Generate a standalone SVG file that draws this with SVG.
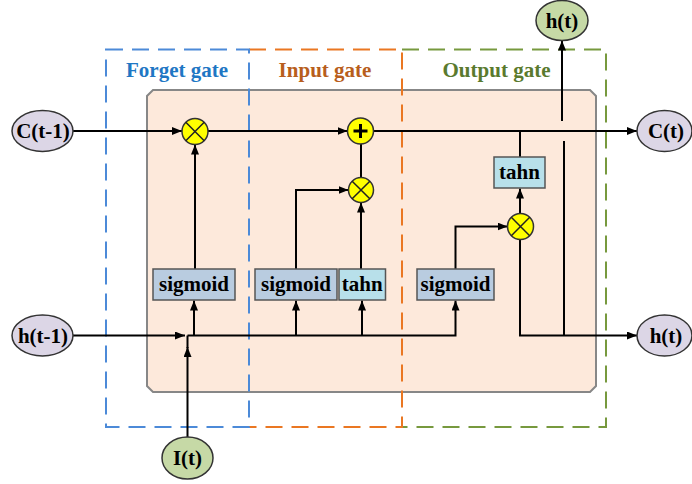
<svg xmlns="http://www.w3.org/2000/svg" width="692" height="484" viewBox="0 0 692 484">
<defs>
<marker id="arr" viewBox="0 0 10 8" refX="10" refY="4" markerWidth="10" markerHeight="8" markerUnits="userSpaceOnUse" orient="auto">
<path d="M0,0 L10,4 L0,8 Z" fill="#000"/>
</marker>
<style>
text{font-family:"Liberation Serif","Times New Roman",serif;font-weight:bold;font-size:21px;text-anchor:middle}
.lbl{fill:#000}
.ln{fill:none;stroke:#000;stroke-width:2}
.ar{marker-end:url(#arr)}
.dash{fill:none;stroke-width:2;stroke-dasharray:17 9}
.ellP{fill:#DCD6E6;stroke:#333;stroke-width:1.5}
.ellG{fill:#C6D9A6;stroke:#333;stroke-width:1.5}
.sig{fill:#B9CCE0;stroke:#555;stroke-width:1.5}
.tah{fill:#B8E0EA;stroke:#555;stroke-width:1.5}
.op{fill:#FFFF00;stroke:#333;stroke-width:1.5}
.opx{stroke:#222;stroke-width:1.5}
</style>
</defs>
<rect width="692" height="484" fill="#fff"/>

<g id="cell">
<path d="M153,90 H590 L596,96 V386 L590,392 H153 L147,386 V96 Z" fill="#FDE9DB" stroke="#878787" stroke-width="2"/>
</g>

<g id="output-gate">
<path class="dash" stroke="#77993E" d="M402,49.5 H606 V427 H402"/>
<text x="496.5" y="77" fill="#5A7A2E">Output gate</text>
</g>
<g id="input-gate">
<path class="dash" stroke="#EA7722" d="M249,49.5 H402 V427 H249"/>
<text x="325" y="77" fill="#B85E1C">Input gate</text>
</g>
<g id="forget-gate">
<path class="dash" stroke="#4C8AD8" d="M106,49.5 H249 V427 H106 Z"/>
<text x="177" y="77" fill="#1F77C4">Forget gate</text>
</g>

<g id="connectors">
<path class="ln ar" d="M73,131 H182"/>
<path class="ln ar" d="M208,131 H347.5"/>
<path class="ln ar" d="M373.5,131 H637"/>
<path class="ln" d="M520,131 V157"/>
<path class="ln ar" d="M520,213.5 V188.5"/>
<path class="ln ar" d="M562,121 V40.5"/>
<path class="ln" d="M564,141 V335.5"/>
<path class="ln ar" d="M520,239.5 V335.5 H637"/>
<path class="ln ar" d="M73,335.5 H185"/>
<path class="ln ar" d="M187.5,437 V347"/>
<path class="ln" d="M187.5,348 V335.5"/>
<path class="ln ar" d="M187.5,335.5 H455.5 V300.5"/>
<path class="ln ar" d="M194,335.5 V300.5"/>
<path class="ln ar" d="M296,335.5 V300.5"/>
<path class="ln ar" d="M362,335.5 V300.5"/>
<path class="ln ar" d="M195,269 V144.5"/>
<path class="ln ar" d="M296,269 V190 H348.5"/>
<path class="ln ar" d="M361,269 V202.5"/>
<path class="ln" d="M361,177.5 V144"/>
<path class="ln ar" d="M455.5,269 V226.5 H507.5"/>
</g>

<g id="mul-forget">
<circle class="op" cx="195" cy="131.5" r="13"/>
<path class="opx" d="M185.8,122.3 L204.2,140.7 M204.2,122.3 L185.8,140.7"/>
</g>
<g id="add-cell">
<circle class="op" cx="360.5" cy="131" r="13"/>
<path d="M353.5,131 H367.5 M360.5,124 V138" stroke="#000" stroke-width="3"/>
</g>
<g id="mul-input">
<circle class="op" cx="361" cy="190" r="12.5"/>
<path class="opx" d="M352.2,181.2 L369.8,198.8 M369.8,181.2 L352.2,198.8"/>
</g>
<g id="mul-output">
<circle class="op" cx="520.5" cy="226.5" r="13"/>
<path class="opx" d="M511.3,217.3 L529.7,235.7 M529.7,217.3 L511.3,235.7"/>
</g>

<g id="sigmoid-forget">
<rect class="sig" x="153" y="269" width="82" height="31"/>
<text class="lbl" x="194" y="291">sigmoid</text>
</g>
<g id="sigmoid-input">
<rect class="sig" x="255" y="269" width="82" height="31"/>
<text class="lbl" x="296" y="291">sigmoid</text>
</g>
<g id="tahn-input">
<rect class="tah" x="339" y="269" width="46.5" height="31"/>
<text class="lbl" x="362.2" y="291">tahn</text>
</g>
<g id="sigmoid-output">
<rect class="sig" x="417" y="269" width="77" height="31"/>
<text class="lbl" x="455.5" y="291">sigmoid</text>
</g>
<g id="tahn-output">
<rect class="tah" x="494" y="157" width="51" height="31"/>
<text class="lbl" x="519.5" y="179">tahn</text>
</g>

<g id="C-prev">
<ellipse class="ellP" cx="42.5" cy="131" rx="30.5" ry="20.5"/>
<text class="lbl" x="43" y="138">C(t-1)</text>
</g>
<g id="h-prev">
<ellipse class="ellP" cx="42.5" cy="335.5" rx="30.5" ry="20.5"/>
<text class="lbl" x="43" y="342.5">h(t-1)</text>
</g>
<g id="I-t">
<ellipse class="ellG" cx="187.5" cy="458" rx="25.5" ry="21"/>
<text class="lbl" x="187.5" y="465">I(t)</text>
</g>
<g id="h-top">
<ellipse class="ellG" cx="562" cy="20.5" rx="26" ry="20"/>
<text class="lbl" x="562" y="27.5">h(t)</text>
</g>
<g id="C-t">
<ellipse class="ellP" cx="664.5" cy="131" rx="27.5" ry="20.5"/>
<text class="lbl" x="666" y="138">C(t)</text>
</g>
<g id="h-t">
<ellipse class="ellP" cx="664.5" cy="335.5" rx="27.5" ry="20.5"/>
<text class="lbl" x="666" y="342.5">h(t)</text>
</g>
</svg>
